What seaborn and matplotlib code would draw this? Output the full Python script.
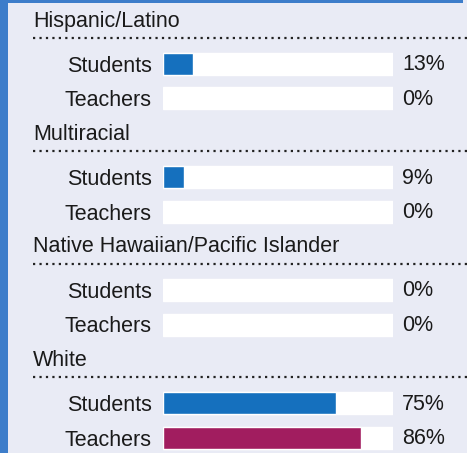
import matplotlib.pyplot as plt
import seaborn as sns
import pandas as pd
from matplotlib.lines import Line2D
from matplotlib.patches import Rectangle

groups = ["Hispanic/Latino", "Multiracial", "Native Hawaiian/Pacific Islander", "White"]
roles = ["Students", "Teachers"]
students = [13, 9, 0, 75]
teachers = [0, 0, 0, 86]

BG = "#e9ebf5"
BORDER = "#3d7dca"
COLORS = {"Students": "#1570be", "Teachers": "#a11d5f"}
TEXT = "#1a1a1a"

W, H = 467, 453
STEP = 113      # vertical distance between groups, px
ROW = 34.5      # distance between the two rows, px

sns.set_style("white")
plt.rcParams["font.family"] = ["Liberation Sans", "DejaVu Sans"]

fig = plt.figure(figsize=(W / 100, H / 100), dpi=100)
fig.patch.set_facecolor(BG)

# frame
fig.add_artist(Rectangle((0, 0), 8 / W, 1, transform=fig.transFigure, color=BORDER, lw=0))
fig.add_artist(Rectangle((0, 1 - 3 / H), 463 / W, 3 / H, transform=fig.transFigure, color=BORDER, lw=0))

for i, group in enumerate(groups):
    off = i * STEP
    # group header + dotted rule
    fig.text(33 / W, 1 - (21 + off) / H, group, fontsize=15.5, color=TEXT, va="center", ha="left")
    y_rule = 1 - (38 + off) / H
    fig.add_artist(Line2D([33 / W, 1], [y_rule, y_rule], transform=fig.transFigure,
                          color="#222222", lw=1.6, linestyle=(0, (1, 1.9))))

    df = pd.DataFrame({"role": roles, "value": [students[i], teachers[i]]})
    top = 64 + off - ROW / 2
    ax = fig.add_axes([163 / W, 1 - (top + 2 * ROW) / H, 230 / W, 2 * ROW / H])
    ax.set_facecolor("none")

    sns.barplot(x=[100, 100], y=roles, color="white", saturation=1, width=22 / ROW, ax=ax)
    sns.barplot(data=df, x="value", y="role", hue="role", palette=COLORS, saturation=1,
                width=22 / ROW, legend=False, ax=ax)

    for j, v in enumerate(df["value"]):
        ax.annotate(f"{v}%", xy=(100, j), xytext=(9, -1), textcoords="offset pixels",
                    va="center", ha="left", fontsize=15.5, color=TEXT)

    ax.set_xlim(0, 100)
    ax.set_ylim(1.5, -0.5)
    ax.set_xlabel("")
    ax.set_ylabel("")
    ax.set_xticks([])
    ax.tick_params(axis="y", length=0, pad=8, labelsize=15.5, labelcolor=TEXT)
    sns.despine(ax=ax, left=True, bottom=True)

fig.savefig("out.png", dpi=100, facecolor=BG)
plt.close(fig)
